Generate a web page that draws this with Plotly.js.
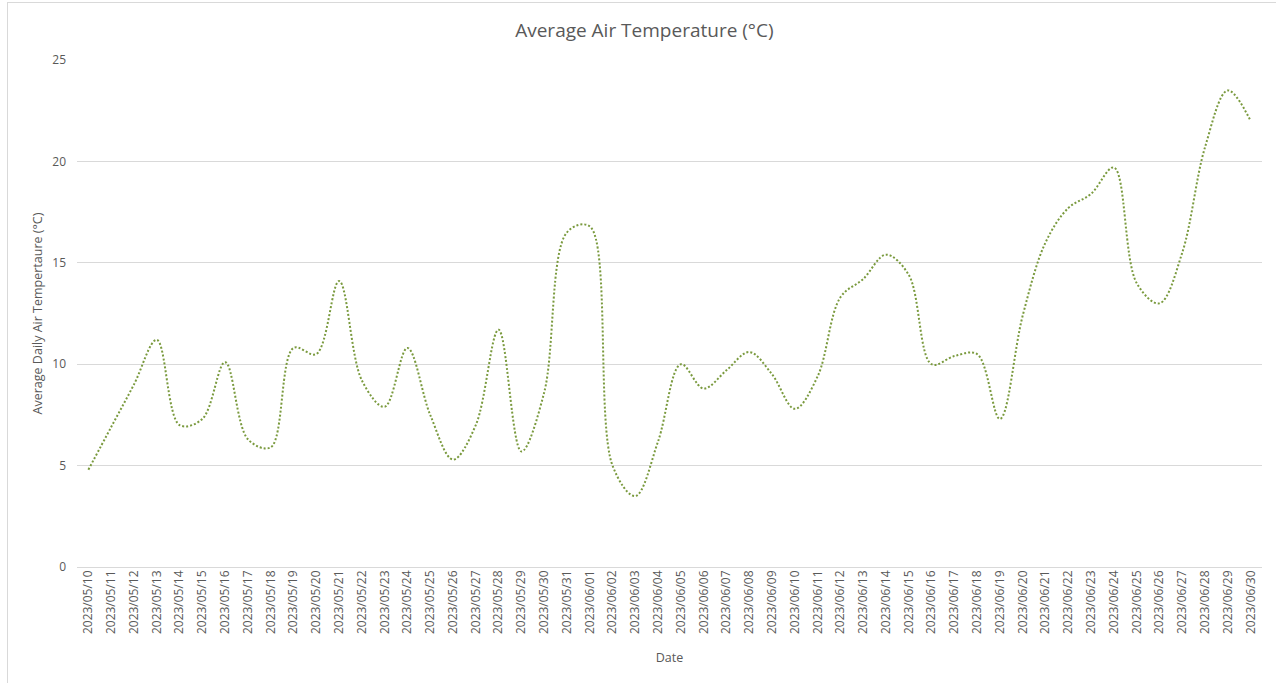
<!DOCTYPE html>
<html>
<head>
<meta charset="utf-8">
<script src="https://cdn.plot.ly/plotly-3.0.1.min.js"></script>
<style>
  html, body { margin: 0; padding: 0; background: #ffffff; overflow: hidden; }
  #chart { position: absolute; left: 0; top: 0; width: 1276px; height: 683px; }
  #frame { position: absolute; left: 7px; top: 2px; width: 1300px; height: 720px; border: 1px solid #d9d9d9; pointer-events: none; }
</style>
</head>
<body>
<div id="chart"></div>
<div id="frame"></div>
<script>
const dates = [
  "2023/05/10","2023/05/11","2023/05/12","2023/05/13","2023/05/14","2023/05/15","2023/05/16",
  "2023/05/17","2023/05/18","2023/05/19","2023/05/20","2023/05/21","2023/05/22","2023/05/23",
  "2023/05/24","2023/05/25","2023/05/26","2023/05/27","2023/05/28","2023/05/29","2023/05/30",
  "2023/05/31","2023/06/01","2023/06/02","2023/06/03","2023/06/04","2023/06/05","2023/06/06",
  "2023/06/07","2023/06/08","2023/06/09","2023/06/10","2023/06/11","2023/06/12","2023/06/13",
  "2023/06/14","2023/06/15","2023/06/16","2023/06/17","2023/06/18","2023/06/19","2023/06/20",
  "2023/06/21","2023/06/22","2023/06/23","2023/06/24","2023/06/25","2023/06/26","2023/06/27",
  "2023/06/28","2023/06/29","2023/06/30"
];
const avgTemp = [
  4.8, 6.9, 9.0, 11.2, 7.0, 7.3, 10.1,
  6.3, 5.9, 10.8, 10.5, 14.1, 9.2, 7.9,
  10.8, 7.5, 5.3, 7.0, 11.7, 5.7, 8.6,
  16.5, 16.8, 5.0, 3.5, 6.2, 10.0, 8.8,
  9.7, 10.6, 9.5, 7.8, 9.4, 13.3, 14.2,
  15.4, 14.4, 10.0, 10.4, 10.5, 7.3, 12.4,
  16.0, 17.7, 18.4, 19.7, 14.0, 13.0, 15.5,
  20.7, 23.5, 22.0
];
const yTicks = [0, 5, 10, 15, 20, 25];

const textColor = "#595959";
const fontFam = "'Open Sans', 'Noto Sans', sans-serif";

const trace = {
  type: "scatter",
  mode: "lines",
  x: dates,
  y: avgTemp,
  line: { color: "#7a9a3e", width: 2, dash: "2px,2px", shape: "spline", smoothing: 1 },
  hoverinfo: "x+y"
};

const layout = {
  width: 1276,
  height: 683,
  margin: { l: 77, r: 14, t: 60, b: 116 },
  paper_bgcolor: "rgba(0,0,0,0)",
  plot_bgcolor: "#ffffff",
  showlegend: false,
  font: { family: fontFam, color: textColor, size: 12 },
  title: {
    text: "Average Air Temperature (°C)",
    font: { family: fontFam, size: 19, color: textColor },
    x: 0.505, xref: "container", xanchor: "center",
    y: 0.955, yref: "container", yanchor: "middle"
  },
  xaxis: {
    type: "category",
    tickvals: dates,
    ticktext: dates,
    tickangle: -90,
    showgrid: false,
    showline: false,
    zeroline: false,
    ticks: "",
    ticklen: 0,
    tickfont: { family: fontFam, size: 12, color: textColor },
    title: { text: "Date", font: { family: fontFam, size: 12.5, color: textColor }, standoff: 20 },
    range: [-0.5, dates.length - 0.5],
    automargin: false
  },
  yaxis: {
    range: [0, 25],
    tickvals: yTicks,
    ticktext: yTicks.map(String),
    showgrid: true,
    gridcolor: "#d9d9d9",
    gridwidth: 1,
    zeroline: true,
    zerolinecolor: "#d9d9d9",
    zerolinewidth: 1,
    showline: false,
    ticks: "",
    tickfont: { family: fontFam, size: 12, color: textColor },
    ticklabelstandoff: 10,
    title: { text: "Average Daily Air Tempertaure (°C)", font: { family: fontFam, size: 12.5, color: textColor }, standoff: 6 },
    automargin: false
  }
};

Plotly.newPlot("chart", [trace], layout, { displayModeBar: false, staticPlot: false });
</script>
</body>
</html>
